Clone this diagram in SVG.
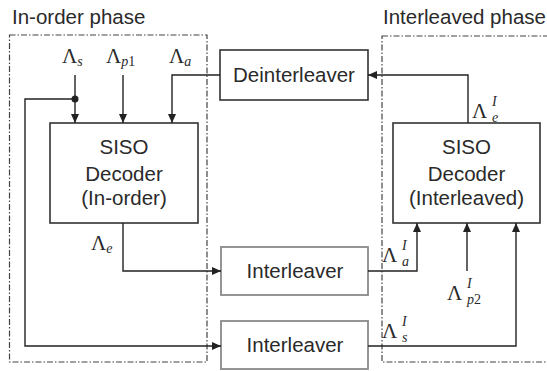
<svg xmlns="http://www.w3.org/2000/svg" width="547" height="371" viewBox="0 0 547 371">
  <style>
    .lbl { font-family: "Liberation Sans", Arial, sans-serif; font-size: 20.5px; fill: #2a2a2a; }
    .mid { text-anchor: middle; }
    .sym { font-family: "Liberation Serif", "Times New Roman", serif; font-size: 21px; fill: #2a2a2a; }
    .sub { font-style: italic; font-size: 14px; }
    .phase { fill: none; stroke: #444; stroke-width: 1.2; stroke-dasharray: 6 2 1.5 2; }
    .blk { fill: #fff; stroke: #333; stroke-width: 1.6; }
    .blk-g { fill: #fff; stroke: #8a8a8a; stroke-width: 1.8; }
    .wire { fill: none; stroke: #222; stroke-width: 1.4; marker-end: url(#ah); }
  </style>
  <defs>
    <marker id="ah" viewBox="0 0 9 8" refX="9" refY="4" markerWidth="9" markerHeight="8" markerUnits="userSpaceOnUse" orient="auto">
      <path d="M0,0 L9,4 L0,8 z" fill="#222"/>
    </marker>
  </defs>
  <rect width="547" height="371" fill="#fff"/>

  <!-- phase regions -->
  <g id="inorder-phase">
    <rect class="phase" x="9.5" y="35" width="197.5" height="327"/>
    <text class="lbl" x="12" y="24">In-order phase</text>
  </g>
  <g id="interleaved-phase">
    <rect class="phase" x="382" y="36" width="170" height="326"/>
    <text class="lbl" x="383" y="24">Interleaved phase</text>
  </g>

  <!-- blocks -->
  <g id="deinterleaver">
    <rect class="blk" x="220" y="50" width="148" height="50"/>
    <text class="lbl mid" x="294" y="82">Deinterleaver</text>
  </g>
  <g id="siso-inorder">
    <rect class="blk" x="50" y="123" width="148" height="100"/>
    <text class="lbl mid" x="124" y="154">SISO</text>
    <text class="lbl mid" x="124" y="181">Decoder</text>
    <text class="lbl mid" x="124" y="205">(In-order)</text>
  </g>
  <g id="siso-interleaved">
    <rect class="blk" x="393" y="123" width="147" height="100"/>
    <text class="lbl mid" x="466.5" y="154">SISO</text>
    <text class="lbl mid" x="466.5" y="181">Decoder</text>
    <text class="lbl mid" x="466.5" y="205">(Interleaved)</text>
  </g>
  <g id="interleaver-a">
    <rect class="blk-g" x="221" y="247" width="147" height="48"/>
    <text class="lbl mid" x="295" y="278">Interleaver</text>
  </g>
  <g id="interleaver-s">
    <rect class="blk-g" x="221" y="321" width="147" height="48"/>
    <text class="lbl mid" x="295" y="352">Interleaver</text>
  </g>

  <!-- connectors -->
  <g id="connectors">
    <path class="wire" d="M75,75 V123"/>
    <path class="wire" d="M75,99 H25 V346 H221"/>
    <circle cx="75" cy="99" r="3.5" fill="#222"/>
    <path class="wire" d="M123,75 V123"/>
    <path class="wire" d="M220,75 H172 V123"/>
    <path class="wire" d="M468,123 V75 H368"/>
    <path class="wire" d="M123,223 V271 H221"/>
    <path class="wire" d="M368,271 H417 V223"/>
    <path class="wire" d="M467,271 V223"/>
    <path class="wire" d="M368,346 H516 V223"/>
  </g>

  <!-- signal labels -->
  <g id="labels">
    <text class="sym" x="62" y="63">Λ<tspan class="sub" dy="3">s</tspan></text>
    <text class="sym" x="106" y="63">Λ<tspan class="sub" dy="3">p</tspan><tspan font-size="14px">1</tspan></text>
    <text class="sym" x="169" y="63">Λ<tspan class="sub" dy="3">a</tspan></text>
    <text class="sym" x="91" y="250">Λ<tspan class="sub" dy="3">e</tspan></text>
    <text class="sym" x="472" y="118">Λ</text>
    <text class="sym sub" x="492" y="106">I</text>
    <text class="sym sub" x="492" y="122">e</text>
    <text class="sym" x="382" y="262">Λ</text>
    <text class="sym sub" x="402" y="250">I</text>
    <text class="sym sub" x="402" y="266">a</text>
    <text class="sym" x="447" y="300">Λ</text>
    <text class="sym sub" x="467" y="288">I</text>
    <text class="sym sub" x="467" y="304">p<tspan font-style="normal">2</tspan></text>
    <text class="sym" x="382" y="338">Λ</text>
    <text class="sym sub" x="402" y="326">I</text>
    <text class="sym sub" x="402" y="342">s</text>
  </g>
</svg>
